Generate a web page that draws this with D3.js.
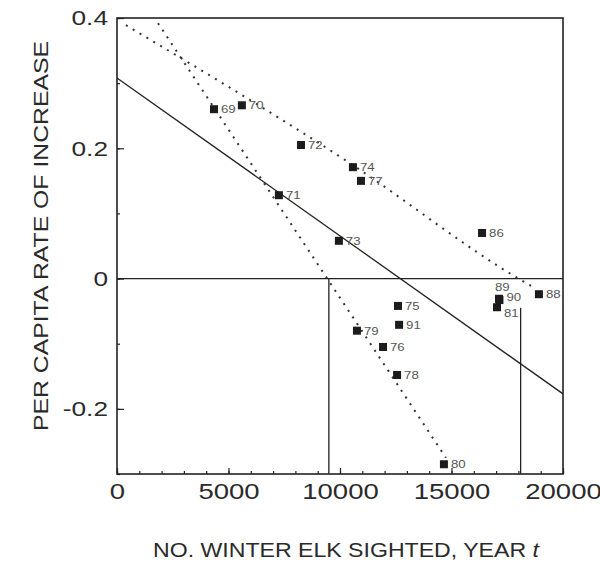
<!DOCTYPE html>
<html>
<head>
<meta charset="utf-8">
<script src="https://cdn.jsdelivr.net/npm/d3@7"></script>
<style>
  html, body { margin: 0; padding: 0; background: #fff; }
  text { font-family: "Liberation Sans", Arial, sans-serif; fill: #2a2a2a; }
</style>
</head>
<body>
<div id="chart"></div>
<script>
// elk counts (x) vs per capita rate of increase (y), one entry per year
var years  = ["69", "70", "72", "74", "77", "71", "73", "86", "89", "90", "81", "88", "75", "91", "79", "76", "78", "80"];
var counts = [4350, 5600, 8250, 10580, 10940, 7260, 9950, 16370, 17130, 17150, 17040, 18920, 12600, 12650, 10760, 11930, 12560, 14660];
var rates  = [0.260, 0.266, 0.205, 0.171, 0.150, 0.128, 0.058, 0.070, -0.031, -0.033, -0.044, -0.024, -0.042, -0.071, -0.080, -0.105, -0.148, -0.285];
var labelAbove = ["89"];
var labelRaise = ["90"];
var labelBelow = ["81"];

// fitted lines
var solidLine  = [[0, 0.308], [20000, -0.177]];
var upperDots  = [[400, 0.389], [10450, 0.177], [18000, 0], [18600, -0.012]];
var steepDots  = [[1840, 0.392], [14750, -0.275]];
// equilibrium markers: x position and top of the drop line
var kLines = [[9500, 0], [18100, -0.045]];

var xTicks = [0, 5000, 10000, 15000, 20000];
var yTicks = [0.4, 0.2, 0, -0.2];
var xMinor = d3.range(0, 20001, 1000);
var yMinor = [-0.3, -0.2, -0.1, 0, 0.1, 0.2, 0.3, 0.4];

var width = 600, height = 565;
var stretch = 1.25;

var x = d3.scaleLinear().domain([0, 20000]).range([117, 563]);
var y = d3.scaleLinear().domain([-0.3, 0.4]).range([474, 18]);

var svg = d3.select("#chart").append("svg")
  .attr("width", width)
  .attr("height", height);

// the scan is wider than the font, so widen each text a bit
var widen = function(sel, k) {
  sel.each(function() {
    var w = this.getComputedTextLength();
    d3.select(this).attr("textLength", w * k).attr("lengthAdjust", "spacingAndGlyphs");
  });
};

// frame
svg.append("rect")
  .attr("x", x(0)).attr("y", y(0.4))
  .attr("width", x(20000) - x(0)).attr("height", y(-0.3) - y(0.4))
  .attr("fill", "none").attr("stroke", "#222").attr("stroke-width", 1.6);

// minor ticks
svg.append("g")
  .attr("transform", "translate(0," + y(-0.3) + ")")
  .call(d3.axisBottom(x).tickValues(xMinor).tickSize(-3).tickFormat(""))
  .call(function(g) { g.select(".domain").remove(); });
svg.append("g")
  .attr("transform", "translate(" + x(0) + ",0)")
  .call(d3.axisLeft(y).tickValues(yMinor).tickSize(-3).tickFormat(""))
  .call(function(g) { g.select(".domain").remove(); });

var xAxis = svg.append("g")
  .attr("transform", "translate(0," + y(-0.3) + ")")
  .call(d3.axisBottom(x).tickValues(xTicks).tickSize(-6).tickPadding(9).tickFormat(d3.format("d")));
xAxis.select(".domain").remove();
xAxis.selectAll("text").attr("font-size", 22).attr("fill", "#2a2a2a");

var yAxis = svg.append("g")
  .attr("transform", "translate(" + x(0) + ",0)")
  .call(d3.axisLeft(y).tickValues(yTicks).tickSize(-7).tickPadding(9)
    .tickFormat(function(d) { return d === 0 ? "0" : d.toFixed(1); }));
yAxis.select(".domain").remove();
yAxis.selectAll("text").attr("font-size", 21).attr("fill", "#2a2a2a");

svg.selectAll(".tick line").attr("stroke", "#222").attr("stroke-width", 1.2);

// zero line
svg.append("line")
  .attr("x1", x(0)).attr("x2", x(20000))
  .attr("y1", y(0)).attr("y2", y(0))
  .attr("stroke", "#222").attr("stroke-width", 1.2);

svg.selectAll(".kline")
  .data(kLines)
  .enter().append("line")
  .attr("class", "kline")
  .attr("x1", function(d) { return x(d[0]); })
  .attr("x2", function(d) { return x(d[0]); })
  .attr("y1", function(d) { return y(d[1]); })
  .attr("y2", y(-0.3))
  .attr("stroke", "#222").attr("stroke-width", 1.3);

var line = d3.line()
  .x(function(d) { return x(d[0]); })
  .y(function(d) { return y(d[1]); });

svg.append("path")
  .attr("d", line(solidLine))
  .attr("fill", "none").attr("stroke", "#222").attr("stroke-width", 1.3);

[upperDots, steepDots].forEach(function(pts) {
  svg.append("path")
    .attr("d", line.curve(d3.curveMonotoneX)(pts))
    .attr("fill", "none").attr("stroke", "#333")
    .attr("stroke-width", 2).attr("stroke-dasharray", "2,6");
});

var pts = years.map(function(yr, i) {
  return { year: yr, x: counts[i], y: rates[i] };
});

svg.selectAll(".pt")
  .data(pts)
  .enter().append("rect")
  .attr("class", "pt")
  .attr("x", function(d) { return x(d.x) - 4; })
  .attr("y", function(d) { return y(d.y) - 4; })
  .attr("width", 8).attr("height", 8)
  .attr("fill", "#1c1c1c");

var ptLabels = svg.selectAll(".pt-label")
  .data(pts)
  .enter().append("text")
  .attr("class", "pt-label")
  .attr("font-size", 11)
  .style("fill", "#555")
  .attr("x", function(d) { return labelAbove.indexOf(d.year) >= 0 ? x(d.x) - 4 : x(d.x) + 7; })
  .attr("y", function(d) {
    if (labelAbove.indexOf(d.year) >= 0) return y(d.y) - 8;
    if (labelRaise.indexOf(d.year) >= 0) return y(d.y) + 1;
    if (labelBelow.indexOf(d.year) >= 0) return y(d.y) + 10;
    return y(d.y) + 4;
  })
  .text(function(d) { return d.year; });

// axis titles
var xTitle = svg.append("text")
  .attr("x", 346).attr("y", 557)
  .attr("text-anchor", "middle")
  .attr("font-size", 21)
  .text("NO. WINTER ELK SIGHTED, YEAR ");
xTitle.append("tspan").attr("font-style", "italic").text("t");

var yTitle = svg.append("text")
  .attr("transform", "translate(48," + 236 + ") rotate(-90)")
  .attr("text-anchor", "middle")
  .attr("font-size", 21)
  .text("PER CAPITA RATE OF INCREASE");

widen(xAxis.selectAll("text"), stretch);
widen(yAxis.selectAll("text"), stretch);
widen(ptLabels, 1.2);
widen(yTitle, 1.18);
widen(xTitle, 1.1);
</script>
</body>
</html>
